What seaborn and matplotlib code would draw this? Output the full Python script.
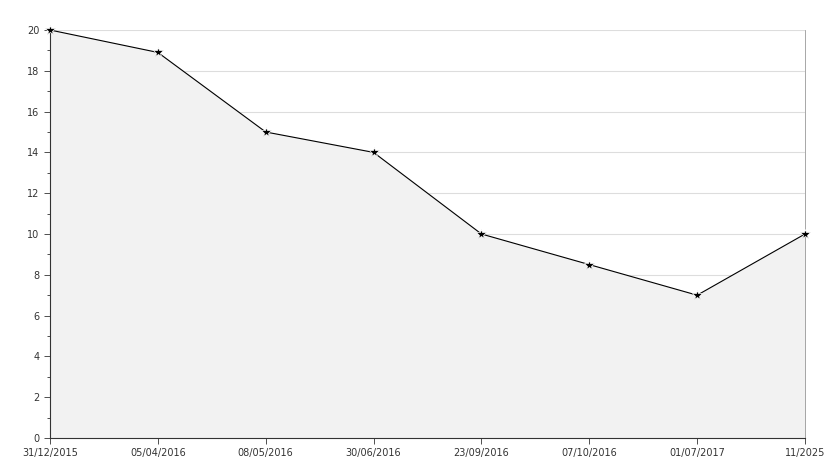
import matplotlib
matplotlib.use("Agg")
import matplotlib.pyplot as plt
import seaborn as sns
import pandas as pd
from matplotlib.ticker import MultipleLocator

dates = ["31/12/2015", "05/04/2016", "08/05/2016", "30/06/2016", "23/09/2016",
         "07/10/2016", "01/07/2017", "11/2025"]
values = [20, 18.9, 15, 14, 10, 8.5, 7, 10]

df = pd.DataFrame({"pos": range(len(dates)), "value": values})

sns.set_style("white")
fig = plt.figure(figsize=(8.34, 4.68), dpi=100)
ax = fig.add_axes([50/834, 30/468, 755/834, 408/468])
ax.fill_between(df["pos"], df["value"], 0, color="#f2f2f2", zorder=1)
sns.lineplot(data=df, x="pos", y="value", ax=ax, color="black", linewidth=0.8,
             marker="*", markersize=7, markeredgewidth=0.5, zorder=3, clip_on=False)
ax.set_xlim(0, len(dates) - 1)
ax.set_ylim(0, 20)
ax.set_xticks(range(len(dates)))
ax.set_xticklabels(dates)
ax.yaxis.set_major_locator(MultipleLocator(2))
ax.yaxis.set_minor_locator(MultipleLocator(1))
ax.grid(axis="y", which="major", color="#dddddd", linewidth=0.8, zorder=0)
ax.set_axisbelow(True)
ax.set_xlabel("")
ax.set_ylabel("")
ax.spines["top"].set_visible(False)
ax.spines["left"].set_color("#333333")
ax.spines["bottom"].set_color("#333333")
ax.spines["right"].set_color("#999999")
ax.spines["right"].set_linewidth(0.6)
ax.tick_params(axis="both", which="both", labelsize=7, colors="#333333", direction="out",
               left=True, bottom=True, length=4, width=0.6)
ax.tick_params(axis="y", which="minor", length=2)
fig.savefig("out.png", dpi=100)
